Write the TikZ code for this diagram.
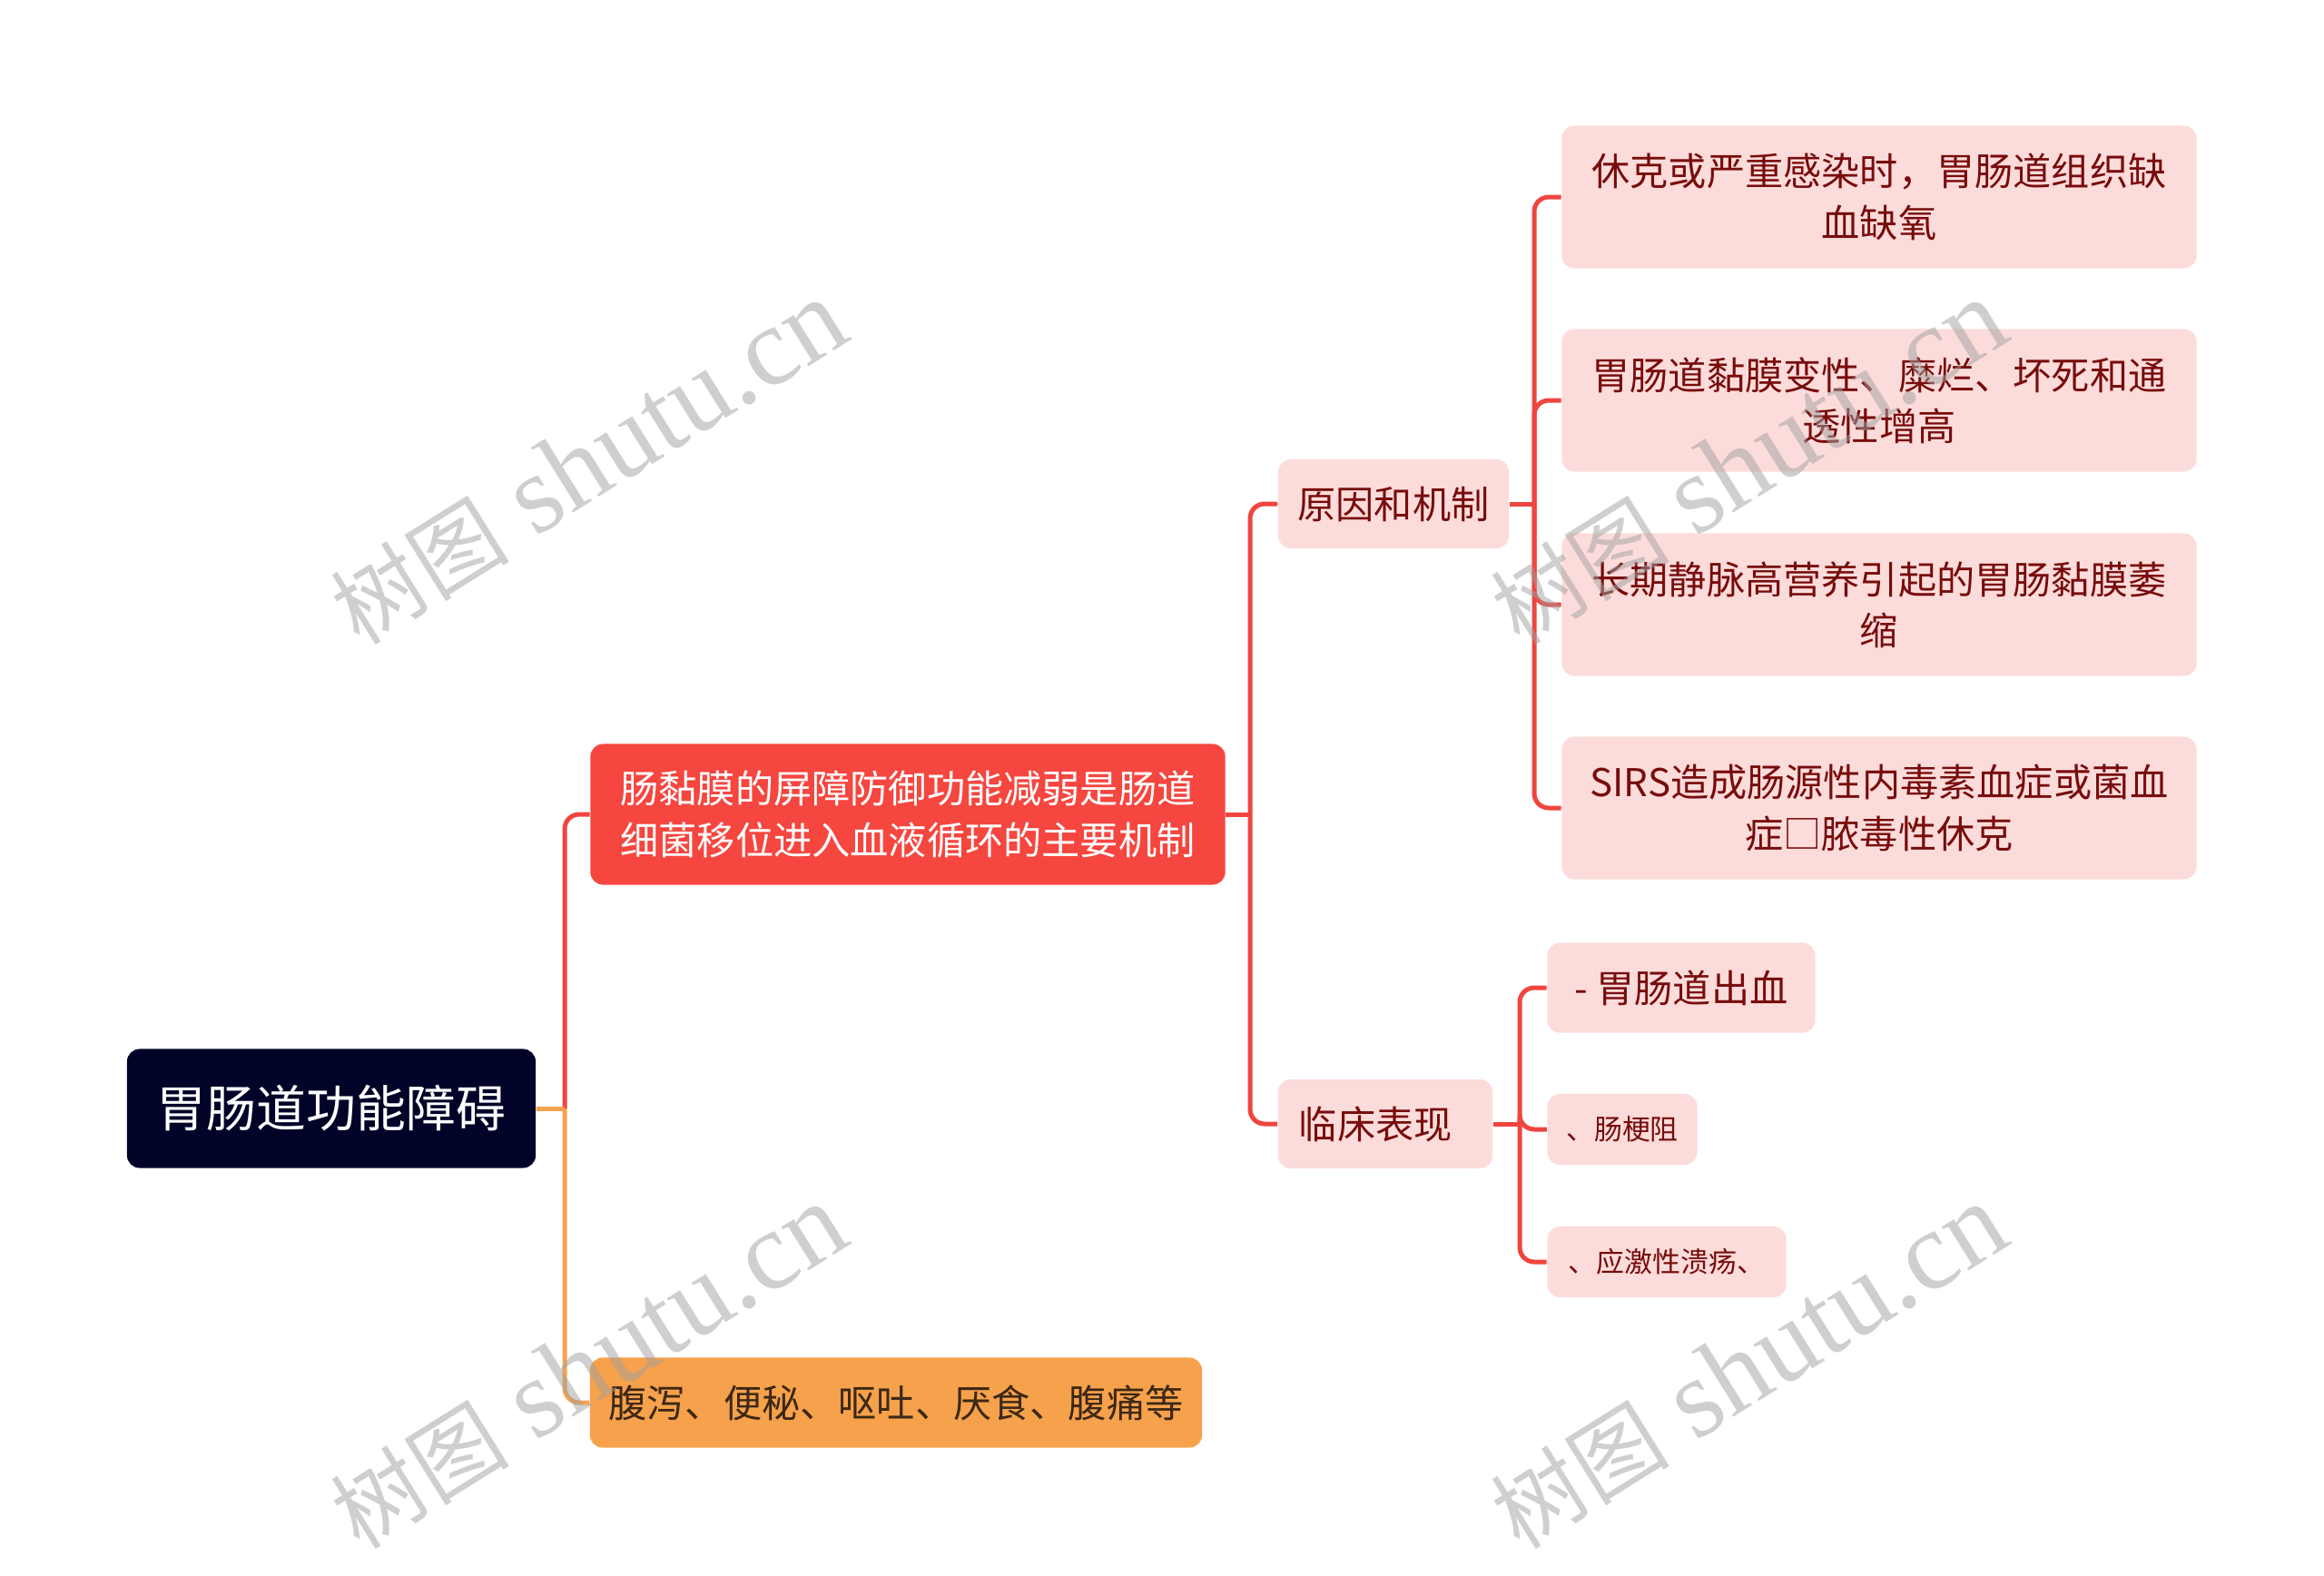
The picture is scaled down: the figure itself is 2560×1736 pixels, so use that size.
\documentclass[tikz,border=0pt]{standalone}
\usepackage{fontspec}
\setmainfont{Noto Sans CJK SC}
\newfontfamily\wmfont{Liberation Serif}
\newfontfamily\wmcjk{Noto Sans CJK SC}
\usetikzlibrary{calc}
\definecolor{rootbg}{RGB}{2,3,40}
\definecolor{mainred}{RGB}{245,70,63}
\definecolor{linered}{RGB}{240,69,63}
\definecolor{pinkbg}{RGB}{252,220,219}
\definecolor{darkred}{RGB}{120,12,12}
\definecolor{orangebg}{RGB}{246,161,75}
\definecolor{orangeline}{RGB}{245,162,80}
\definecolor{orangetext}{RGB}{60,40,20}
\definecolor{wmgray}{RGB}{160,160,160}
\tikzset{
  box/.style={rounded corners=0.14cm, inner sep=0pt, align=center},
  rootbox/.style={box, fill=rootbg, text=white, minimum width=4.5cm, minimum height=1.31cm, font=\fontsize{15.6pt}{19pt}\selectfont},
  mainbox/.style={box, fill=mainred, text=white, minimum width=6.99cm, minimum height=1.55cm, font=\fontsize{12pt}{16pt}\selectfont},
  orangebox/.style={box, fill=orangebg, text=orangetext, minimum width=6.74cm, minimum height=0.99cm, font=\fontsize{12pt}{16pt}\selectfont},
  midbox/.style={box, fill=pinkbg, text=darkred, minimum height=0.98cm, font=\fontsize{12pt}{16pt}\selectfont},
  leafbox/.style={box, fill=pinkbg, text=darkred, minimum width=6.99cm, minimum height=1.57cm, font=\fontsize{12pt}{16pt}\selectfont},
  kidbox/.style={box, fill=pinkbg, text=darkred, minimum height=0.99cm, font=\fontsize{12pt}{16pt}\selectfont},
  smallbox/.style={box, fill=pinkbg, text=darkred, minimum height=0.78cm, font=\fontsize{8.8pt}{11pt}\selectfont},
  redlink/.style={draw=linered, line width=0.05cm, rounded corners=0.16cm},
  orangelink/.style={draw=orangeline, line width=0.05cm, rounded corners=0.16cm},
  redstub/.style={draw=linered, line width=0.05cm},
  orangestub/.style={draw=orangeline, line width=0.05cm},
  watermark/.style={text=wmgray, opacity=0.5, rotate=32, inner sep=0pt}
}
\newcommand{\wmtext}{{\fontsize{28pt}{28pt}\selectfont\wmcjk 树图}\hspace{0.3cm}{\fontsize{35pt}{35pt}\selectfont\wmfont shutu.cn}}
\begin{document}
\begin{tikzpicture}[x=0.01cm,y=-0.01cm]
\useasboundingbox[fill=white] (0,0) rectangle (2560,1736);

% trunk coordinates
\coordinate (t1) at (622,0);
\coordinate (t2) at (1377,0);
\coordinate (t3) at (1690,0);
\coordinate (t4) at (1674,0);

% nodes
\node[rootbox] (root) at (365,1221) {胃肠道功能障碍};
\node[mainbox] (main) at (1000,897) {肠黏膜的屏障防御功能减弱是肠道\\细菌移位进入血液循环的主要机制};
\node[orangebox] (orange) at (987,1545) {腹泻、便秘、呕吐、厌食、腹痛等};
\node[midbox, minimum width=2.54cm] (yuan) at (1535,555) {原因和机制};
\node[midbox, minimum width=2.36cm, text width=1.9cm, align=left] (lin) at (1526,1238) {临床表现};
\node[leafbox] (l1) at (2070,217) {休克或严重感染时，胃肠道组织缺\\血缺氧};
\node[leafbox] (l2) at (2070,441) {胃肠道黏膜变性、糜烂、坏死和通\\透性增高};
\node[leafbox] (l3) at (2070,666) {长期静脉高营养引起的胃肠黏膜萎\\缩};
\node[leafbox] (l4) at (2070,890) {SIRS造成肠源性内毒素血症或菌血\\症□脓毒性休克};
\node[kidbox, minimum width=2.95cm] (k1) at (1852,1088) {- 胃肠道出血};
\node[smallbox, minimum width=1.65cm] (k2) at (1787,1244) {、肠梗阻};
\node[smallbox, minimum width=2.63cm] (k3) at (1836,1390) {、应激性溃疡、};

% connectors
\draw[redlink] (root.east -| t1) |- (main.west);
\draw[orangelink] (root.east -| t1) |- (orange.west);
\draw[orangestub] (root.east) -- (root.east -| t1);

\draw[redstub] (main.east) -- (main.east -| t2);
\draw[redlink] (main.east -| t2) |- (yuan.west);
\draw[redlink] (main.east -| t2) |- (lin.west);

\draw[redstub] (yuan.east) -- (yuan.east -| t3);
\foreach \n in {l1,l2,l3,l4}
  \draw[redlink] (yuan.east -| t3) |- (\n.west);

\draw[redstub] (lin.east) -- (lin.east -| t4);
\foreach \n in {k1,k2,k3}
  \draw[redlink] (lin.east -| t4) |- (\n.west);

% watermarks
\node[watermark] (wm1) at (648,510) {\wmtext};
\node[watermark] (wm2) at (648,1506) {\wmtext};
\node[watermark] (wm3) at (1926,510) {\wmtext};
\node[watermark] (wm4) at (1926,1506) {\wmtext};
\end{tikzpicture}
\end{document}
